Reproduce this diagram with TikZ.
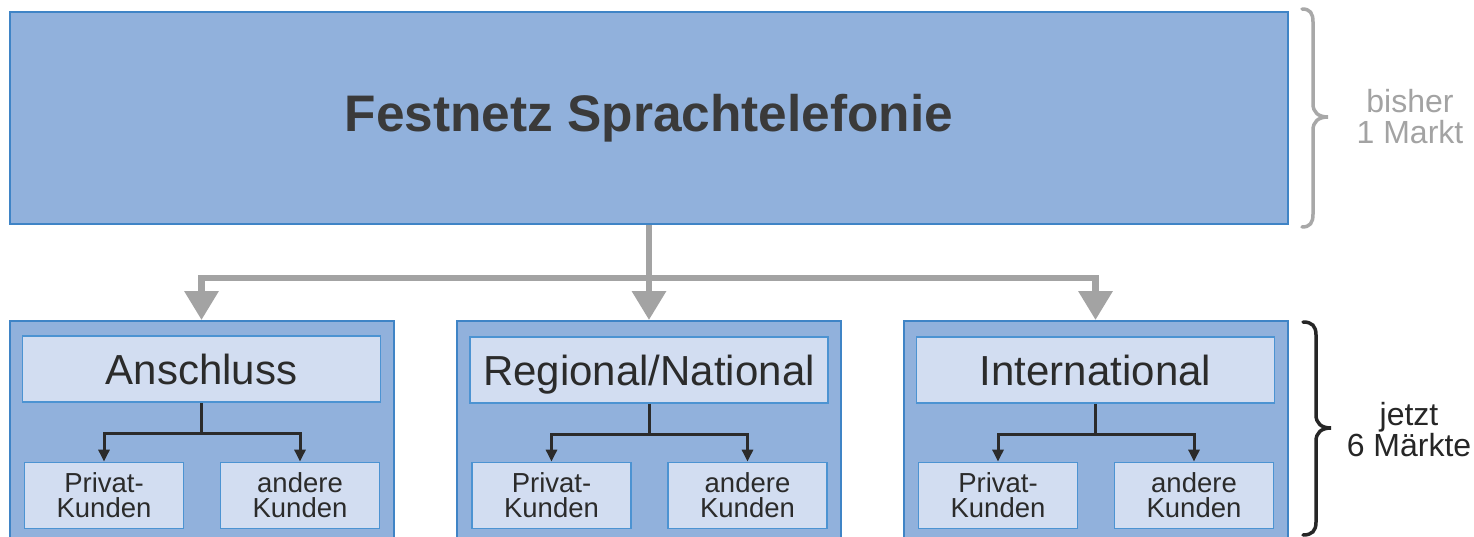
\documentclass[tikz,border=0pt]{standalone}
\usepackage{fontspec}
\setmainfont{Liberation Sans}
\usetikzlibrary{arrows.meta,calc}
\definecolor{boxfill}{HTML}{91B1DC}
\definecolor{boxdraw}{HTML}{3F84C6}
\definecolor{innerfill}{HTML}{D2DDF1}
\definecolor{innerdraw}{HTML}{4C93D2}
\definecolor{arrgray}{HTML}{A3A3A3}
\definecolor{bracegray}{HTML}{A8A8A8}
\definecolor{txtdark}{HTML}{2B2B2B}
\definecolor{titletxt}{HTML}{3A3A3A}
\begin{document}
\begin{tikzpicture}[x=1pt,y=-1pt,
  topbox/.style={draw=boxdraw, fill=boxfill, line width=2pt, inner sep=0pt,
    minimum width=1278pt, minimum height=212pt,
    font=\bfseries\fontsize{51.4}{56}\selectfont, text=titletxt},
  outerbox/.style={draw=boxdraw, fill=boxfill, line width=2pt, inner sep=0pt,
    minimum width=384pt, minimum height=240pt, anchor=north},
  header/.style={draw=innerdraw, fill=innerfill, line width=1.8pt, inner sep=0pt,
    minimum width=358pt, minimum height=66pt, text height=30pt, text depth=0pt,
    font=\fontsize{42}{46}\selectfont, text=txtdark},
  subbox/.style={draw=innerdraw, fill=innerfill, line width=1.8pt, inner sep=0pt,
    minimum width=159pt, minimum height=66pt, align=center,
    font=\fontsize{27.5}{25}\selectfont, text=txtdark},
  garrow/.style={draw=arrgray, line width=6.5pt, -{Triangle[width=33pt,length=29pt]}},
  darrow/.style={draw=txtdark, line width=3pt, -{Triangle[width=11pt,length=12pt]}},
  dline/.style={draw=txtdark, line width=3pt},
  bracestyle/.style={line width=3.5pt, line cap=round},
  rlabel/.style={align=center, inner sep=0pt, font=\fontsize{32}{31}\selectfont}
]
\useasboundingbox (0,0) rectangle (1474,537);
\fill[white] (0,0) rectangle (1474,537);
\clip (0,0) rectangle (1474,537);

% top box
\node[topbox] (top) at (649,118) {Festnetz Sprachtelefonie};

% bottom boxes
\node[outerbox] (b1) at (201.5,320) {};
\node[outerbox] (b2) at (649,320) {};
\node[outerbox] (b3) at (1095.5,320) {};

% gray connectors
\coordinate (hub) at (649,278);
\draw[garrow] (top.south) -- (b2.north);
\draw[garrow] (hub) -| (b1.north);
\draw[garrow] (hub) -| (b3.north);

% headers
\node[header] (h1) at (201.5,369) {Anschluss};
\node[header] (h2) at (649,370) {Regional/National};
\node[header] (h3) at (1095.5,370) {International};

\foreach \i in {1,2,3} {
  \node[subbox] (l\i) at ($(b\i.north)+(-97.5,175.5)$) {Privat-\\Kunden};
  \node[subbox] (r\i) at ($(b\i.north)+(98.5,175.5)$) {andere\\Kunden};
  \coordinate (j\i) at ($(h\i.south)+(0,31)$);
  \draw[dline] (h\i.south) -- (j\i);
  \draw[darrow] (j\i) -| (l\i.north);
  \draw[darrow] (j\i) -| (r\i.north);
}

% braces
\draw[bracestyle, draw=bracegray] (1302,9) .. controls (1310,9) and (1313,13) .. (1313,22)
  -- (1313,104) .. controls (1313,112) and (1318,117) .. (1328,117)
  .. controls (1318,117) and (1313,122) .. (1313,130)
  -- (1313,214) .. controls (1313,223) and (1310,227) .. (1302,227);
\draw[bracestyle, draw=black!85] (1303,322) .. controls (1312,322) and (1316,326) .. (1316,335)
  -- (1316,415) .. controls (1316,423) and (1321,428) .. (1331,428)
  .. controls (1321,428) and (1316,433) .. (1316,441)
  -- (1316,522) .. controls (1316,531) and (1312,535) .. (1303,535);

\node[rlabel, text=arrgray] (t1) at (1410,117) {bisher\\1 Markt};
\node[rlabel, text=black!85] (t2) at (1409,430) {jetzt\\6 Märkte};
\end{tikzpicture}
\end{document}
